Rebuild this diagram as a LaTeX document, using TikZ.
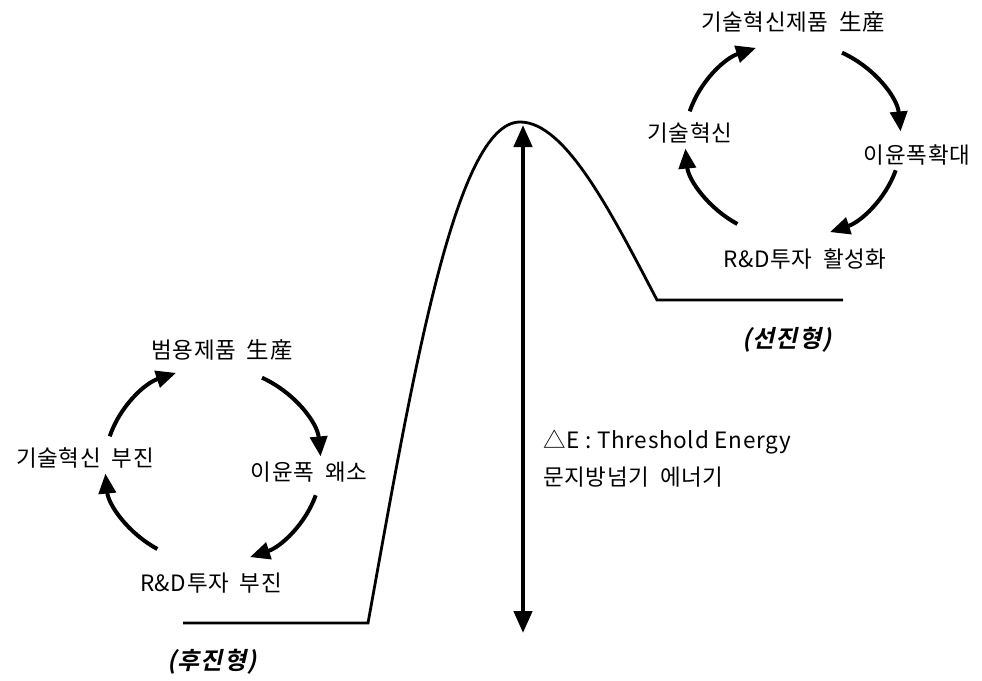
\documentclass[tikz,border=0pt]{standalone}
\usepackage{fontspec}
\setmainfont{Noto Sans CJK KR}[LetterSpace=3]
\newfontfamily\lblfont{Noto Sans CJK KR}[LetterSpace=4,FakeSlant=0.22,BoldFont={Noto Sans CJK KR Bold}]
\usetikzlibrary{arrows.meta,calc}
\begin{document}
\begin{tikzpicture}[x=1pt,y=-1pt,
  txt/.style={inner sep=0pt,font=\fontsize{22.5}{26}\selectfont},
  lbl/.style={inner sep=0pt,font=\fontsize{24}{28}\selectfont\lblfont\bfseries},
  cyc/.style={line width=4pt,-{Triangle[length=20pt,width=17pt]}},
  dbl/.style={line width=4.4pt,{Triangle[length=22pt,width=18pt]}-{Triangle[length=22pt,width=18pt]}},
  hill/.style={line width=2.8pt,line join=miter}]
\useasboundingbox (0,0) rectangle (982,680);
% hill curve
\coordinate (s0) at (183,623);
\coordinate (s1) at (368,623);
\coordinate (pk) at (520,122);
\coordinate (e0) at (657,300);
\coordinate (e1) at (843,300);
\draw[hill] (s0) -- (s1) .. controls (412,380) and (455,122) .. (pk)
  .. controls (565,122) and (610,210) .. (e0) -- (e1);
% threshold arrow
\coordinate (at) at (523,125);
\coordinate (ab) at (523,633);
\draw[dbl] (at) -- (ab);
\node[txt,anchor=west] (de) at (543,442) {△E : Threshold Energy};
\node[txt,anchor=west] (dk) at (543,477) {문지방넘기\hspace{5pt} 에너기};
% top cycle
\coordinate (tc) at (793,140);
\node[txt] (t1) at (793,22) {기술혁신제품\hspace{5pt} 生産};
\node[txt] (t2) at (690,133) {기술혁신};
\node[txt] (t3) at (917,155) {이윤폭확대};
\node[txt] (t4) at (805,259) {R\&D투자\hspace{5pt} 활성화};
\draw[cyc] ($(tc)+(197:108 and 98)$) arc[start angle=197,end angle=250,x radius=108,y radius=98];
\draw[cyc] ($(tc)+(297:108 and 98)$) arc[start angle=297,end angle=355,x radius=108,y radius=98];
\draw[cyc] ($(tc)+(18:108 and 98)$) arc[start angle=18,end angle=70,x radius=108,y radius=98];
\draw[cyc] ($(tc)+(121:108 and 98)$) arc[start angle=121,end angle=175,x radius=108,y radius=98];
\node[lbl] (adv) at (787,340) {(선진형)};
% bottom cycle
\coordinate (bc) at (213,465);
\node[txt] (b1) at (222,350) {범용제품\hspace{5pt} 生産};
\node[txt] (b2) at (85,458) {기술혁신\hspace{5pt} 부진};
\node[txt] (b3) at (309,472) {이윤폭\hspace{5pt} 왜소};
\node[txt] (b4) at (211,583) {R\&D투자\hspace{5pt} 부진};
\draw[cyc] ($(bc)+(197:108 and 98)$) arc[start angle=197,end angle=250,x radius=108,y radius=98];
\draw[cyc] ($(bc)+(297:108 and 98)$) arc[start angle=297,end angle=355,x radius=108,y radius=98];
\draw[cyc] ($(bc)+(18:108 and 98)$) arc[start angle=18,end angle=70,x radius=108,y radius=98];
\draw[cyc] ($(bc)+(121:108 and 98)$) arc[start angle=121,end angle=175,x radius=108,y radius=98];
\node[lbl] (lag) at (212,662) {(후진형)};
\end{tikzpicture}
\end{document}
